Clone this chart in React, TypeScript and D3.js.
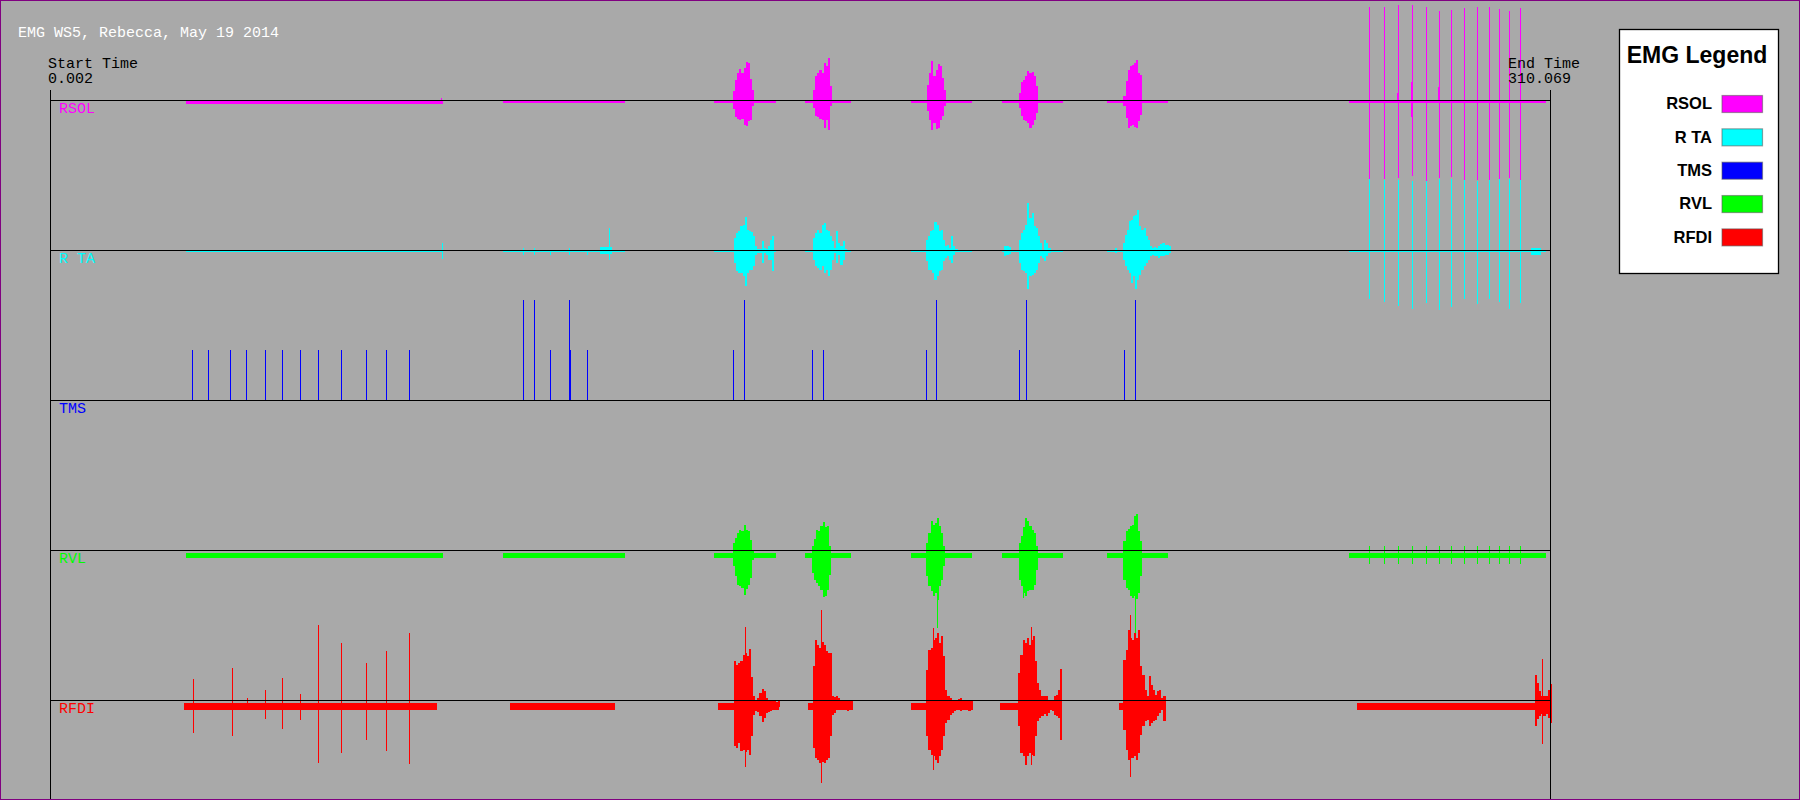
import React from "react";
import * as d3 from "d3";

// ---------- chart data ----------
const TITLE = "EMG WS5, Rebecca, May 19 2014";
const START_TIME = 0.002;
const END_TIME = 310.069;
const CHANNELS = ["RSOL", "R TA", "TMS", "RVL", "RFDI"];
const COLORS = ["#ff00ff", "#00ffff", "#0000ff", "#00ff00", "#ff0000"];
const DT = 0.435; // envelope sample interval (s)

// steady noise bands: [tStart, tEnd, hi, lo]
const rsolSegments = [
  [28.11, 81.24, 0, -3.5], [93.64, 118.86, -0.5, -2.6], [268.52, 309.24, -0.7, -2.8],
  [137.21, 149.99, 0.3, -2.8], [156.07, 165.49, 0.3, -2.8], [178.04, 190.51, 0.3, -2.8],
  [196.69, 209.3, 0.3, -2.8], [218.49, 231.12, 0.3, -2.8],
];
const rtaSegments = [
  [28.11, 81.24, -0.3, -1.5], [93.64, 118.86, -0.3, -1.5], [268.52, 309.24, -0.3, -1.5],
  [113.7, 116.2, 3, -4], [306.1, 308.3, 2, -5],
  [137.21, 149.99, -0.3, -1.5], [156.07, 165.49, -0.3, -1.5], [178.04, 190.51, -0.3, -1.5],
  [196.69, 209.3, -0.3, -1.5], [218.49, 231.19, -0.3, -1.5],
];
const rvlSegments = [
  [28.11, 81.24, -3, -8], [93.64, 118.86, -3, -8], [268.52, 309.24, -3, -8],
  [137.21, 149.99, -3, -8], [156.07, 165.49, -3, -8], [178.04, 190.51, -3, -8],
  [196.69, 209.3, -3, -8], [218.49, 231.12, -3, -8],
];
const rfdiSegments = [
  [27.7, 80.0, -3, -10], [95.09, 116.79, -3, -10], [270.17, 306.97, -3, -10],
  [138.17, 150.63, -3, -10], [156.59, 165.93, -3, -10], [178.04, 190.51, -3, -10],
  [196.46, 208.87, -3, -10], [221.04, 230.32, -3, -10],
];

// burst envelopes sampled every DT seconds: start time, upper and lower values
const rsolBursts = [
  { t0: 141.2, hi: [9, 20, 27, 31, 27, 32, 38, 37, 21, 10], lo: [-9, -17, -19, -20, -19, -25, -26, -21, -20, -6] },
  { t0: 157.74, hi: [10, 24, 27, 30, 27, 37, 34, 42, 14], lo: [-8, -16, -17, -19, -20, -28, -20, -30, -6] },
  { t0: 181.31, hi: [15, 27, 39, 24, 30, 36, 34, 22, 10], lo: [-11, -20, -30, -23, -29, -28, -20, -16, -6] },
  { t0: 200.3, hi: [7, 18, 20, 24, 29, 27, 28, 24, 14], lo: [-8, -16, -20, -21, -23, -28, -25, -20, -13] },
  { t0: 221.9, hi: [4, 19, 30, 34, 35, 37, 40, 27, 25], lo: [-6, -18, -28, -26, -25, -27, -28, -21, -15] },
];
const rtaBursts = [
  { t0: 141.43, hi: [12, 17, 19, 24, 25, 33, 20, 19, 18, 14, 4, 1, 1, 9, 2, 1, 4, 10, 14], lo: [-13, -21, -23, -23, -26, -36, -23, -20, -20, -16, -5, -3, -3, -13, -3, -5, -10, -10, -21] },
  { t0: 157.74, hi: [12, 17, 20, 17, 25, 27, 20, 19, 14, 9, 2, 19, 7, 4, 9, 1], lo: [-10, -16, -18, -20, -16, -23, -20, -26, -20, -10, -3, -13, -5, -15, -10, -2] },
  { t0: 181.08, hi: [10, 14, 19, 20, 28, 25, 19, 20, 10, 4, 5, 2, 14, 4, 1], lo: [-11, -20, -20, -23, -30, -26, -21, -20, -11, -8, -6, -10, -13, -5, -2] },
  { t0: 197.27, hi: [4, 4, 3], lo: [-6, -5, -4] },
  { t0: 200.3, hi: [10, 17, 20, 25, 47, 32, 37, 24, 22, 14, 7, 0, 10, 7, 2], lo: [-13, -20, -21, -23, -39, -26, -25, -23, -20, -13, -6, -8, -11, -6, -3] },
  { t0: 220.09, hi: [2], lo: [-3] },
  { t0: 221.7, hi: [7, 15, 20, 29, 30, 34, 35, 40, 24, 20, 22, 14, 10, 4, 2, 3, 2, 4, 6, 7, 5, 5, 4], lo: [-10, -16, -20, -23, -33, -26, -39, -30, -25, -20, -16, -13, -10, -6, -5, -6, -6, -8, -6, -6, -5, -5, -3] },
];
const rvlBursts = [
  { t0: 141.2, hi: [7, 12, 17, 20, 19, 25, 20, 19, 10, 0], lo: [-16, -26, -35, -36, -38, -45, -39, -35, -28, -10] },
  { t0: 157.52, hi: [4, 11, 20, 19, 24, 28, 23, 24, 4], lo: [-23, -30, -33, -36, -40, -47, -46, -40, -25] },
  { t0: 181.16, hi: [7, 17, 29, 25, 27, 32, 24, 17, 4], lo: [-26, -36, -41, -46, -43, -50, -36, -30, -16] },
  { t0: 200.3, hi: [7, 14, 23, 32, 29, 24, 20, 17, 4], lo: [-30, -36, -43, -46, -41, -40, -40, -35, -20] },
  { t0: 221.9, hi: [9, 19, 21, 24, 25, 34, 36, 19, 9], lo: [-30, -38, -40, -46, -48, -46, -49, -43, -26] },
];
const rfdiBursts = [
  { t0: 141.43, hi: [39, 35, 37, 39, 45, 47, 44, 51, 23, 4, 0, 2, 7, 11, 9, 2, 0, -1, -1, -1, -2, -1], lo: [-46, -48, -43, -51, -50, -52, -50, -55, -36, -15, -11, -12, -16, -22, -18, -13, -12, -11, -10, -10, -8, -7] },
  { t0: 157.74, hi: [34, 60, 55, 52, 58, 55, 49, 47, 47, 4, 3, 4, 2, -1, -1, -1, -1, -1, -1], lo: [-48, -58, -60, -63, -62, -63, -60, -58, -36, -15, -13, -10, -10, -9, -10, -10, -11, -10, -10] },
  { t0: 181.16, hi: [30, 50, 52, 60, 62, 67, 57, 64, 44, 10, 4, 2, 0, -1, 0, 1, 2, 0, -1, -1, 0, -1], lo: [-36, -50, -55, -56, -60, -63, -56, -50, -36, -23, -20, -15, -13, -11, -10, -10, -11, -10, -10, -10, -11, -10] },
  { t0: 200.16, hi: [27, 45, 60, 57, 62, 55, 60, 64, 39, 17, 10, 4, 4, 4, 0, -1, 0, 4, 5, 10, 31], lo: [-26, -53, -56, -65, -56, -53, -55, -56, -36, -21, -18, -16, -14, -16, -13, -10, -11, -15, -16, -18, -40] },
  { t0: 221.9, hi: [40, 50, 70, 62, 60, 67, 62, 70, 34, 25, 10, 4, 24, 15, 10, 5, 9, 10, 2, 4], lo: [-30, -50, -60, -58, -58, -56, -60, -53, -35, -26, -21, -20, -26, -23, -21, -20, -16, -13, -10, -21] },
  { t0: 306.97, hi: [25, 17, 9, 4, 4, 4, 10, 16], lo: [-26, -19, -16, -14, -16, -14, -18, -23] },
];

// stimulus artefacts (times of the end-region pulses)
const endPulseTimes = [272.65, 275.75, 278.65, 281.54, 284.43, 287.12, 289.6, 292.29, 294.98, 297.46, 299.53, 301.59, 303.87];
const rsolPulseHi = [93, 93, 95, 95, 93, 89, 90, 92, 93, 93, 91, 89, 92];
const rsolPulseLo = [-79, -79, -78, -76, -81, -78, -77, -80, -80, -80, -80, -78, -80];
const rtaPulseHi = [71, 70, 70, 69, 69, 71, 71, 70, 69, 70, 71, 71, 70];
const rtaPulseLo = [-49, -52, -56, -59, -53, -60, -57, -49, -54, -49, -52, -59, -53];

// single spikes: [t, hi, lo]
const rsolSpikes = [[80.82, 2, -3], [281.4, 18, -17], [287.0, 13, 0], [278.5, 7, 0]];
const rtaSpikes = [[81.03, 7, -9], [97.77, 2, -5], [100.05, 2, -5], [103.36, 0, -5], [107.28, 2, -5], [111.0, 0, -5], [115.55, 22, -10]];
const rvlSpikes = [[183.27, 0, -78], [224.37, 0, -90], [201.17, 0, -48]];
const rvlEndTickHi = 4;
const rvlEndTickLo = -14;
const rfdiSpikes = [
  [29.56, 21, -33], [37.62, 32, -36], [40.72, 2, -8], [44.44, 10, -19], [47.96, 22, -29],
  [51.68, 6, -20], [55.4, 75, -63], [60.15, 57, -53], [65.32, 37, -40], [69.46, 49, -51], [74.21, 67, -64],
  [143.75, 73, -67], [159.42, 90, -83], [182.61, 72, -70], [202.85, 73, -65], [223.21, 85, -77],
  [308.41, 41, -44],
];
// TMS pulses: [t, height]
const tmsPulses = [
  [29.35, 50], [32.66, 50], [37.21, 50], [40.52, 50], [44.44, 50], [47.96, 50], [51.68, 50], [55.4, 50],
  [60.15, 50], [65.32, 50], [69.46, 50], [74.21, 50],
  [97.77, 100], [100.05, 100], [103.36, 50], [107.28, 100], [107.49, 50], [111.0, 50],
  [141.18, 50], [143.46, 100], [157.51, 50], [159.79, 50], [181.08, 50], [183.15, 100],
  [200.31, 50], [201.75, 100], [222.01, 50], [224.28, 100],
];

const LEGEND_TITLE = "EMG Legend";

// ---------- component ----------
type Burst = { t0: number; hi: number[]; lo: number[] };

export default function App() {
  const x = d3.scaleLinear().domain([START_TIME, END_TIME]).range([50, 1550]);
  const base = d3.scalePoint<string>().domain(CHANNELS).range([100, 700]);
  const amp = d3.scaleLinear().domain([-75, 75]).range([75, -75]);

  const channelData: Record<string, { segs: number[][]; bursts: Burst[]; spikes: number[][] }> = {
    RSOL: {
      segs: rsolSegments,
      bursts: rsolBursts,
      spikes: [...rsolSpikes, ...endPulseTimes.map((t, i) => [t, rsolPulseHi[i], rsolPulseLo[i]])],
    },
    "R TA": {
      segs: rtaSegments,
      bursts: rtaBursts,
      spikes: [...rtaSpikes, ...endPulseTimes.map((t, i) => [t, rtaPulseHi[i], rtaPulseLo[i]])],
    },
    TMS: { segs: [], bursts: [], spikes: tmsPulses.map(([t, h]) => [t, h, 0]) },
    RVL: {
      segs: rvlSegments,
      bursts: rvlBursts,
      spikes: [...rvlSpikes, ...endPulseTimes.map((t) => [t, rvlEndTickHi, rvlEndTickLo])],
    },
    RFDI: { segs: rfdiSegments, bursts: rfdiBursts, spikes: rfdiSpikes },
  };

  const mono = "'Liberation Mono', 'DejaVu Sans Mono', monospace";
  const sans = "'Liberation Sans', Arial, sans-serif";

  return (
    <svg
      width={1800}
      height={800}
      style={{ position: "absolute", left: 0, top: 0, display: "block" }}
    >
      <rect x={0} y={0} width={1800} height={800} fill="#a9a9a9" />

      {/* traces */}
      {CHANNELS.map((ch, ci) => {
        const yb = base(ch) as number;
        const color = COLORS[ci];
        const d = channelData[ch];
        const area = d3
          .area<number[]>()
          .x((p) => x(p[0]))
          .y0((p) => yb + amp(p[2]))
          .y1((p) => yb + amp(p[1]))
          .curve(d3.curveStepAfter);
        return (
          <g key={ch} shapeRendering="crispEdges">
            {d.segs.map((s, i) => {
              const y1 = yb + amp(s[2]);
              const y0 = yb + amp(s[3]);
              return (
                <rect
                  key={"s" + i}
                  x={x(s[0])}
                  width={x(s[1]) - x(s[0])}
                  y={y1}
                  height={Math.max(1, y0 - y1)}
                  fill={color}
                />
              );
            })}
            {d.bursts.map((b, i) => {
              const pts = b.hi.map((h, k) => [b.t0 + k * DT, h, b.lo[k]]);
              const n = b.hi.length;
              pts.push([b.t0 + n * DT, b.hi[n - 1], b.lo[n - 1]]);
              return <path key={"b" + i} d={area(pts) || ""} fill={color} />;
            })}
            {d.spikes.map((s, i) => {
              const px = Math.round(x(s[0])) + 0.5;
              return (
                <line
                  key={"p" + i}
                  x1={px}
                  x2={px}
                  y1={yb + amp(s[1])}
                  y2={yb + amp(s[2])}
                  stroke={color}
                  strokeWidth={1}
                />
              );
            })}
          </g>
        );
      })}

      {/* axes and baselines */}
      <g shapeRendering="crispEdges" stroke="#000" strokeWidth={1}>
        {CHANNELS.map((ch) => {
          const yb = (base(ch) as number) + 0.5;
          return <line key={ch} x1={50} x2={1551} y1={yb} y2={yb} />;
        })}
        <line x1={50.5} x2={50.5} y1={90} y2={800} />
        <line x1={1550.5} x2={1550.5} y1={90} y2={800} />
      </g>

      {/* channel labels */}
      {CHANNELS.map((ch, ci) => (
        <text
          key={"l" + ch}
          x={59}
          y={(base(ch) as number) + 13}
          fill={COLORS[ci]}
          fontFamily={mono}
          fontSize={15}
        >
          {ch}
        </text>
      ))}

      {/* title and time labels */}
      <text x={18} y={37} fill="#fff" fontFamily={mono} fontSize={15}>
        {TITLE}
      </text>
      <text x={48} y={68} fill="#000" fontFamily={mono} fontSize={15}>
        Start Time
      </text>
      <text x={48} y={83} fill="#000" fontFamily={mono} fontSize={15}>
        {START_TIME.toFixed(3)}
      </text>
      <text x={1508} y={68} fill="#000" fontFamily={mono} fontSize={15}>
        End Time
      </text>
      <text x={1508} y={83} fill="#000" fontFamily={mono} fontSize={15}>
        {END_TIME.toFixed(3)}
      </text>

      {/* legend */}
      <g>
        <rect x={1619.5} y={29.5} width={159} height={244} fill="#fff" stroke="#000" strokeWidth={1.3} />
        <text x={1697} y={63} textAnchor="middle" fontFamily={sans} fontWeight="bold" fontSize={23} fill="#000">
          {LEGEND_TITLE}
        </text>
        {CHANNELS.map((ch, ci) => (
          <g key={"lg" + ch}>
            <text
              x={1712}
              y={109.3 + ci * 33.35}
              textAnchor="end"
              fontFamily={sans}
              fontWeight="bold"
              fontSize={16.5}
              fill="#000"
            >
              {ch}
            </text>
            <rect
              x={1722}
              y={95.5 + ci * 33.35}
              width={40.5}
              height={17}
              fill={COLORS[ci]}
              stroke="rgba(90,90,90,0.55)"
              strokeWidth={1.2}
            />
          </g>
        ))}
      </g>

      {/* frame */}
      <rect x={0.5} y={0.5} width={1799} height={799} fill="none" stroke="#800080" strokeWidth={1} />
    </svg>
  );
}
